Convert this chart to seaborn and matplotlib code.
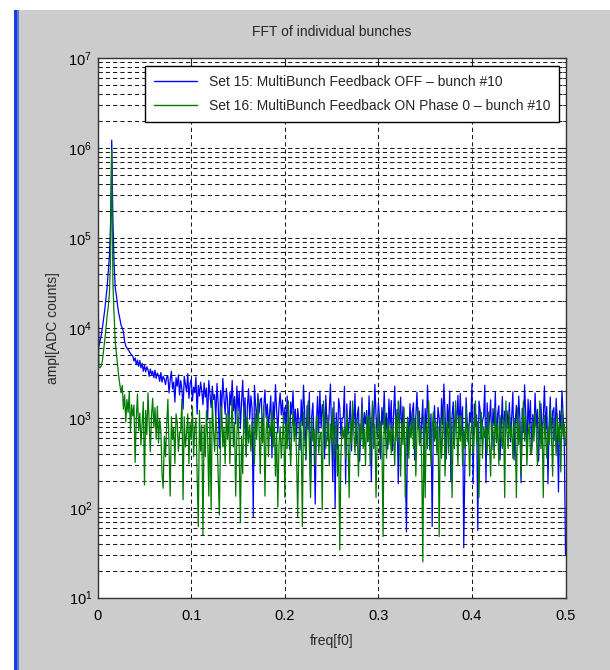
import numpy as np
import pandas as pd
import matplotlib
matplotlib.use("Agg")
import matplotlib.pyplot as plt
import seaborn as sns
from matplotlib.patches import Rectangle
from matplotlib.ticker import FixedLocator, NullFormatter, NullLocator, LogFormatterSciNotation

# FFT amplitude of bunch #10 [ADC counts], one value per frequency bin from 0 to 0.5 f0
off_amp = [
    48000, 6200, 7200, 8300, 10000, 12600, 15800, 21000, 28000, 42000,
    63000, 145000, 1230000, 160000, 52000, 28000, 23000, 17800, 14500, 12600,
    10700, 10000, 9100, 7100, 6300, 6000, 5750, 5500, 5250, 5000,
    4900, 4300, 4650, 3900, 4400, 3750, 4350, 3600, 4050, 3300,
    3850, 3250, 3700, 3450, 2900, 3500, 3050, 3300, 2800, 3400,
    2750, 3150, 2950, 2550, 3200, 2500, 2900, 2700, 2350, 2850,
    2900, 1900, 2650, 3300, 2100, 2500, 1500, 2800, 2250, 3000,
    1800, 2600, 2100, 1250, 2900, 2350, 1950, 3100, 1650, 2400,
    2700, 1550, 2200, 1900, 2850, 1100, 2300, 1750, 2500, 2000,
    1400, 2450, 1700, 2150, 950, 2600, 1850, 1300, 2250, 1600,
    1820, 990, 2420, 1470, 460, 2020, 1300, 2750, 1650, 1100,
    2130, 1550, 700, 1920, 1380, 2620, 1200, 1730, 860, 2260,
    1210, 1970, 760, 1510, 2620, 1050, 1680, 400, 1360, 2110,
    970, 1760, 1290, 80, 2300, 1440, 870, 1860, 1130, 1600,
    1660, 550, 1290, 2050, 1010, 1430, 780, 1150, 1760, 360,
    1500, 940, 2340, 1210, 680, 1350, 1890, 1080, 1580, 860,
    1300, 700, 1750, 980, 450, 1500, 1100, 2000, 830, 1250,
    610, 1270, 960, 440, 1590, 820, 2310, 1110, 340, 1370,
    750, 1930, 190, 1040, 1470, 530, 110, 890, 1730, 680,
    1990, 770, 1410, 1070, 350, 1780, 920, 550, 1230, 2380,
    700, 200, 1510, 100, 1140, 450, 1640, 1310, 630, 990,
    1010, 2240, 185, 1430, 660, 930, 1540, 430, 1230, 800,
    1870, 510, 1080, 1330, 330, 730, 1680, 590, 1150, 860,
    1210, 540, 1760, 910, 195, 1400, 770, 2360, 1060, 620,
    1500, 980, 350, 1300, 840, 1970, 690, 1130, 450, 1620,
    800, 1560, 430, 1090, 2260, 670, 1240, 185, 940, 1700,
    600, 1340, 870, 330, 54, 1020, 520, 1440, 740, 1170,
    1470, 340, 1040, 1930, 750, 1190, 530, 890, 1590, 190,
    1270, 680, 2310, 960, 440, 1110, 62, 820, 1370, 610,
    630, 1310, 990, 450, 1640, 840, 2380, 1140, 350, 1410,
    770, 1990, 195, 1070, 1510, 550, 1230, 920, 1780, 700,
    1870, 730, 1330, 36, 330, 1680, 860, 510, 1150, 900,
    2400, 185, 1430, 800, 1080, 56, 1540, 1230, 590, 930,
    1040, 2310, 190, 1470, 680, 960, 1590, 440, 1270, 820,
    1930, 530, 1110, 1370, 340, 750, 1730, 610, 1190, 890,
    1200, 760, 1480, 540, 1050, 1950, 340, 900, 1380, 620,
    1750, 970, 190, 1280, 690, 2330, 1120, 440, 1610, 830,
    1560, 430, 1090, 670, 1890, 800, 1240, 330, 940, 1440,
    600, 1020, 2260, 740, 1340, 185, 870, 1700, 520, 1170,
    1300, 560, 1650, 900, 150, 1200, 750, 2000, 1050, 480,
    30,
]

on_amp = [
    50000, 3700, 3600, 3800, 4300, 5600, 7400, 9500, 13500, 17000,
    24000, 60000, 950000, 32000, 14000, 7000, 5200, 3800, 2900, 2300,
    1900, 2300, 1250, 1800, 900, 1600, 1150, 1950, 700, 1400,
    1050,
    1390, 320, 980, 1840, 720, 1130, 500, 850, 1510, 180,
    1210, 650, 1900, 920, 420, 1060, 1650, 780, 1300, 580,
    1350, 525, 955, 725, 240, 165, 625, 370, 835, 1610,
    475, 135, 1030, 575, 780, 310, 1110, 890, 425, 675,
    725, 1610, 123, 1030, 475, 675, 1110, 310, 890, 575,
    1350, 370, 780, 955, 240, 62, 1210, 425, 835, 50,
    835, 370, 1210, 625, 135, 955, 95, 1610, 725, 425,
    1030, 675, 240, 83, 575, 1350, 475, 780, 310, 1110,
    575, 1110, 310, 780, 1610, 475, 890, 135, 675, 1210,
    425, 68, 625, 240, 1350, 725, 370, 1030, 525, 835,
    425, 890, 675, 310, 1110, 575, 1610, 780, 240, 955,
    525, 1350, 135, 725, 1030, 370, 835, 625, 1210, 475,
    985, 225, 695, 102, 505, 800, 355, 600, 1065, 130,
    855, 455, 1545, 645, 295, 745, 1160, 550, 915, 405,
    80, 505, 915, 695, 62, 1160, 600, 355, 800, 1545,
    455, 130, 985, 550, 745, 295, 1065, 855, 405, 645,
    695, 95, 1545, 985, 455, 645, 1065, 295, 855, 550,
    1295, 355, 745, 915, 225, 505, 34, 405, 800, 600,
    800, 355, 1160, 600, 130, 915, 505, 1545, 695, 405,
    985, 645, 225, 855, 550, 1295, 455, 745, 295, 1065,
    550, 1065, 295, 745, 1545, 455, 855, 130, 645, 1160,
    405, 915, 600, 48, 1295, 695, 355, 985, 505, 800,
    405, 855, 645, 295, 1065, 550, 1545, 745, 225, 915,
    505, 1295, 130, 695, 985, 355, 800, 600, 1160, 455,
    985, 225, 695, 1295, 505, 800, 355, 25, 1065, 130,
    855, 455, 1545, 645, 295, 745, 1160, 550, 915, 405,
    800, 48, 985, 355, 695, 1295, 225, 600, 915, 405,
    1160, 645, 130, 855, 455, 1545, 745, 295, 1065, 550,
    1065, 295, 745, 455, 1295, 550, 855, 225, 645, 985,
    405, 695, 1545, 505, 915, 130, 600, 1160, 355, 800,
    600, 800, 405, 1160, 505, 225, 915, 745, 355, 1295,
    550, 855, 295, 1065, 645, 455, 985, 130, 1545, 695,
    455, 1160, 600, 800, 355, 985, 695, 130, 1295, 505,
    915, 225, 745, 1545, 550, 1065, 295, 645, 855, 405,
    405, 915, 550, 1160, 745, 295, 645, 1545, 455, 855,
    130, 1065, 600, 355, 800, 505, 1295, 695, 225, 985,
    760, 380, 1100, 540, 900, 250, 1300, 620, 850, 500,
]

series_names = [
    "Set 15: MultiBunch Feedback OFF \u2013 bunch #10",
    "Set 16: MultiBunch Feedback ON Phase 0 \u2013 bunch #10",
]
series_colors = ["#0000ff", "#007a00"]
x_ticks = [0, 0.1, 0.2, 0.3, 0.4, 0.5]
x_tick_labels = ["0", "0.1", "0.2", "0.3", "0.4", "0.5"]
y_ticks = [1e1, 1e2, 1e3, 1e4, 1e5, 1e6, 1e7]

# frequency bins of the half spectrum, in units of f0
n_bins = len(off_amp)
freq = np.arange(n_bins) * 0.5 / (n_bins - 1)

df = pd.concat([
    pd.DataFrame({"freq": freq, "ampl": off_amp, "set": series_names[0]}),
    pd.DataFrame({"freq": freq, "ampl": on_amp, "set": series_names[1]}),
])

sns.set_style("white")
plt.rcParams["font.family"] = ["Liberation Sans", "DejaVu Sans"]
plt.rcParams["mathtext.fontset"] = "custom"
plt.rcParams["mathtext.rm"] = "Liberation Sans"
plt.rcParams["mathtext.it"] = "Liberation Sans"
plt.rcParams["mathtext.bf"] = "Liberation Sans"
FS = 10

fig = plt.figure(figsize=(6.1, 6.7), dpi=100, facecolor="white")
W, H = 610, 670

# grey window area with blue bar on the left
fig.patches.append(Rectangle((19 / W, 0), 1, 1 - 10 / H, transform=fig.transFigure,
                             facecolor="#cccccc", edgecolor="none", zorder=-10))
fig.patches.append(Rectangle((13.5 / W, 0), 3 / W, 1 - 10 / H, transform=fig.transFigure,
                             facecolor="#1a3fd9", edgecolor="none", zorder=-9))
fig.patches.append(Rectangle((16.5 / W, 0), 2.5 / W, 1 - 10 / H, transform=fig.transFigure,
                             facecolor="#4f7ae6", edgecolor="none", zorder=-9))

left, right, top, bottom = 97.7, 565.5, 58.3, 597.7
ax = fig.add_axes([left / W, 1 - bottom / H, (right - left) / W, (bottom - top) / H])
ax.set_facecolor("white")

sns.lineplot(data=df, x="freq", y="ampl", hue="set", palette=series_colors,
             estimator=None, sort=False, linewidth=0.9, ax=ax)

ax.set_yscale("log")
ax.set_xlim(0, 0.5)
ax.set_ylim(10, 1e7)
ax.xaxis.set_major_locator(FixedLocator(x_ticks))
ax.xaxis.set_minor_locator(NullLocator())
ax.set_xticklabels(x_tick_labels)
ax.yaxis.set_major_locator(FixedLocator(y_ticks))
ax.yaxis.set_major_formatter(LogFormatterSciNotation())
minor_y = [m * 10.0 ** e for e in range(1, 7) for m in range(2, 10)]
ax.yaxis.set_minor_locator(FixedLocator(minor_y))
ax.yaxis.set_minor_formatter(NullFormatter())

grid_kw = dict(color="#1a1a1a", linestyle=(0, (4, 3)), linewidth=0.75)
ax.grid(True, which="major", axis="both", **grid_kw)
ax.grid(True, which="minor", axis="y", **grid_kw)
ax.set_axisbelow(True)

ax.tick_params(which="major", direction="in", length=5, width=0.8, top=True, right=True,
               labelsize=10.5, colors="#222222", labelcolor="black")
ax.tick_params(axis="x", which="major", pad=8)
ax.tick_params(axis="y", which="major", pad=4)
ax.tick_params(which="minor", direction="in", length=3, width=0.6, left=True, right=True,
               colors="#222222")
for s in ax.spines.values():
    s.set_color("#333333")
    s.set_linewidth(1.0)
    s.set_visible(True)

ax.set_title("FFT of individual bunches", fontsize=FS, pad=16)
ax.set_xlabel("freq[f0]", fontsize=FS, labelpad=8)
ax.set_ylabel("ampl[ADC counts]", fontsize=FS, labelpad=6)

handles, labels = ax.get_legend_handles_labels()
leg = ax.legend(handles, series_names, loc="upper right", bbox_to_anchor=(0.987, 0.986),
                borderaxespad=0, fontsize=FS, frameon=True, fancybox=False, framealpha=1,
                edgecolor="black", handlelength=3.1, handletextpad=0.85, borderpad=0.65,
                labelspacing=0.7)
leg.get_frame().set_linewidth(1.0)
for line in leg.get_lines():
    line.set_linewidth(1.0)

fig.savefig("out.png", dpi=100, facecolor=fig.get_facecolor())
